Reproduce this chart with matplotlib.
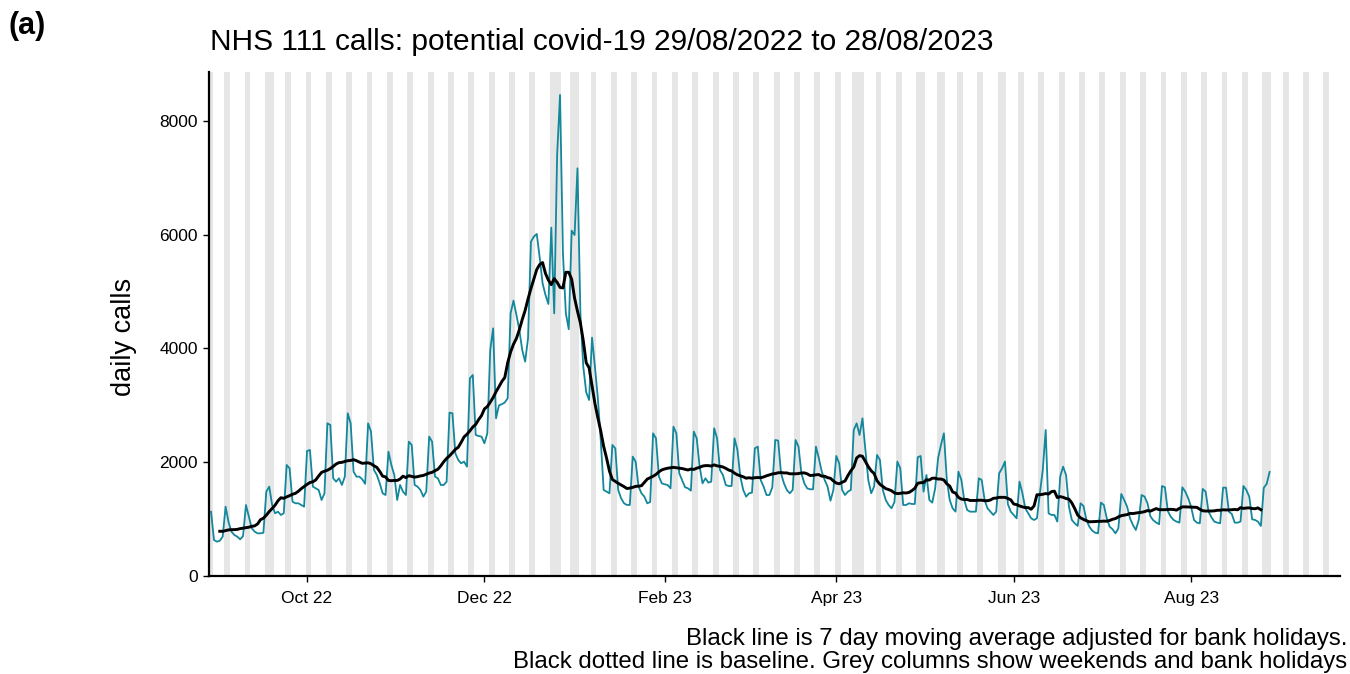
import pandas as pd
import matplotlib
matplotlib.use("Agg")
import matplotlib.pyplot as plt
import matplotlib.dates as mdates

plt.rcParams['font.family'] = ['Liberation Sans', 'DejaVu Sans']

# daily NHS 111 calls, one row per week (Mon..Sun), starting Mon 29/08/2022
start_date = "2022-08-29"
daily_calls = [
    1130, 633, 604, 620, 692, 1219, 950,
    780, 721, 692, 645, 700, 1248, 1043,
    838, 780, 750, 750, 760, 1483, 1571,
    1250, 1102, 1131, 1073, 1102, 1952, 1893,
    1307, 1278, 1278, 1248, 1219, 2198, 2215,
    1571, 1541, 1512, 1336, 1450, 2684, 2655,
    1717, 1659, 1717, 1600, 1746, 2860, 2684,
    1834, 1746, 1746, 1700, 1620, 2684, 2538,
    1864, 1776, 1629, 1454, 1424, 2186, 1952,
    1776, 1336, 1600, 1483, 1424, 2362, 2303,
    1600, 1571, 1512, 1395, 1483, 2450, 2362,
    1747, 1717, 1600, 1600, 1659, 2872, 2860,
    2157, 2040, 1981, 2010, 1922, 3475, 3534,
    2479, 2461, 2450, 2333, 2508, 3973, 4354,
    2772, 3000, 3020, 3050, 3124, 4618, 4841,
    4589, 4325, 3973, 3768, 4179, 5878, 5966,
    6013, 5600, 5145, 4940, 4782, 6124, 4618,
    7400, 8456, 5673, 4618, 4337, 6071, 5995,
    7167, 4618, 3680, 3230, 3094, 4190, 3680,
    3130, 2391, 1512, 1483, 1454, 2303, 2245,
    1512, 1366, 1278, 1249, 1249, 2098, 2010,
    1571, 1454, 1395, 1278, 1300, 2508, 2420,
    1747, 1629, 1612, 1600, 1541, 2625, 2508,
    1805, 1680, 1560, 1541, 1500, 2538, 2420,
    1923, 1629, 1717, 1641, 1659, 2596, 2420,
    1864, 1776, 1600, 1582, 1582, 2420, 2215,
    1747, 1512, 1395, 1454, 1465, 2245, 2274,
    1688, 1571, 1424, 1424, 1559, 2391, 2380,
    1805, 1629, 1512, 1454, 1512, 2391, 2274,
    1805, 1629, 1541, 1524, 1524, 2274, 2069,
    1834, 1688, 1571, 1324, 1512, 2110, 1981,
    1512, 1424, 1483, 1512, 2567, 2684, 2479,
    2772, 2215, 1688, 1454, 1571, 2128, 2040,
    1512, 1336, 1248, 1190, 1300, 2011, 1893,
    1248, 1248, 1278, 1266, 1266, 2087, 2110,
    1483, 1776, 1336, 1290, 1541, 2069, 2303,
    2508, 1688, 1336, 1190, 1131, 1834, 1688,
    1336, 1160, 1131, 1131, 1131, 1717, 1688,
    1336, 1190, 1131, 1073, 1131, 1805, 1893,
    2011, 1263, 1131, 1073, 1014, 1659, 1454,
    1190, 1102, 1014, 985, 1014, 1454, 1864,
    2567, 1100, 1073, 1073, 956, 1750, 1922,
    1776, 1219, 985, 926, 880, 1278, 1231,
    985, 868, 797, 762, 750, 1290, 1248,
    1014, 868, 821, 750, 838, 1442, 1336,
    1219, 1014, 897, 809, 985, 1424, 1395,
    1278, 1050, 980, 940, 910, 1582, 1559,
    1140, 1043, 985, 956, 938, 1559, 1483,
    1366, 1219, 985, 938, 926, 1530, 1483,
    1131, 1032, 956, 938, 926, 1553, 1553,
    1131, 1090, 938, 938, 956, 1582, 1512,
    1395, 997, 985, 956, 880, 1550, 1620,
    1830,
]

bank_holidays = ["2022-08-29", "2022-09-19", "2022-12-26", "2022-12-27",
                 "2023-01-02", "2023-04-07", "2023-04-10", "2023-05-01",
                 "2023-05-08", "2023-05-29", "2023-08-28"]
calendar_end = "2023-09-21"

dates = pd.date_range(start_date, periods=len(daily_calls), freq="D")
calls = pd.Series(daily_calls, index=dates, dtype=float)
bh = pd.to_datetime(bank_holidays)

# 7 day moving average, bank holidays left out of the window
adj = calls.copy()
adj[adj.index.isin(bh)] = float("nan")
ma = adj.rolling(7, center=True, min_periods=4).mean()
ma.iloc[:3] = float("nan")
ma.iloc[-3:] = float("nan")

fig = plt.figure(figsize=(13.5, 6.74), dpi=100)
ax = fig.add_axes([209 / 1350, 1 - 576 / 674, (1340 - 209) / 1350, (576 - 72) / 674])

# grey columns: weekends and bank holidays
cal = pd.date_range(start_date, calendar_end, freq="D")
for d in cal:
    if d.weekday() >= 5 or d in bh:
        ax.axvspan(d - pd.Timedelta(hours=12), d + pd.Timedelta(hours=12),
                   color="#e6e6e6", lw=0, zorder=0)

ax.plot(calls.index, calls.values, color="#13879b", lw=1.3, zorder=2)
ax.plot(ma.index, ma.values, color="black", lw=2.1, zorder=3)

ax.set_xlim(pd.Timestamp(start_date) - pd.Timedelta(hours=17),
            pd.Timestamp(calendar_end) + pd.Timedelta(hours=5))
ax.set_ylim(0, 8860)
ax.set_yticks([0, 2000, 4000, 6000, 8000])
ax.xaxis.set_major_locator(mdates.MonthLocator(bymonth=[2, 4, 6, 8, 10, 12]))
ax.xaxis.set_major_formatter(mdates.DateFormatter("%b %y"))

for s in ["top", "right"]:
    ax.spines[s].set_visible(False)
for s in ["left", "bottom"]:
    ax.spines[s].set_linewidth(1.6)
ax.tick_params(axis="both", labelsize=12.5, length=4, width=1, colors="black")
ax.tick_params(axis="x", pad=7)
ax.tick_params(axis="y", pad=4)
ax.set_facecolor("white")

fig.text(124 / 1350, 1 - 337 / 674, "daily calls", fontsize=19.5, rotation=90,
         ha="center", va="center")

fig.text(8 / 1350, 1 - 11 / 674, "(a)", fontsize=22, fontweight="bold", va="top")
fig.text(210 / 1350, 1 - 50 / 674, "NHS 111 calls: potential covid-19 29/08/2022 to 28/08/2023",
         fontsize=21.5, va="baseline")
fig.text(1347 / 1350, 1 - 645 / 674,
         "Black line is 7 day moving average adjusted for bank holidays.",
         fontsize=17.3, ha="right", va="baseline")
fig.text(1347 / 1350, 1 - 668 / 674,
         "Black dotted line is baseline. Grey columns show weekends and bank holidays",
         fontsize=17.3, ha="right", va="baseline")

fig.savefig("out.png", dpi=100)
